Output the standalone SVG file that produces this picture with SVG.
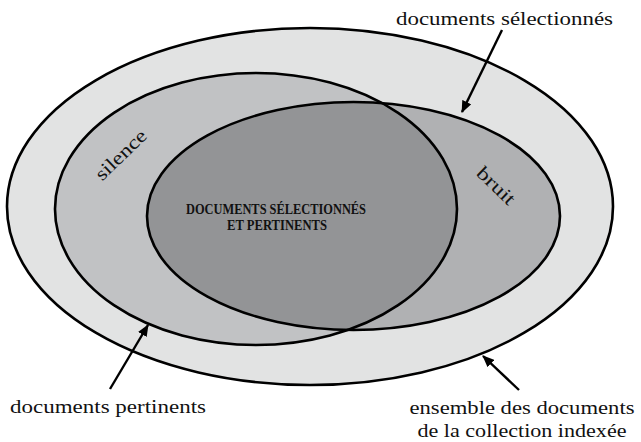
<svg xmlns="http://www.w3.org/2000/svg" width="641" height="442" viewBox="0 0 641 442">
  <style>
    .edge { fill: none; stroke: #000; stroke-width: 2.6; }
    text { font-family: 'Liberation Serif', 'Times New Roman', serif; fill: #111; }
    .big { font-size: 18.5px; }
    .core { font-size: 14px; font-weight: bold; }
    .arrow { stroke: #000; stroke-width: 2.4; fill: none; }
  </style>
  <defs>
    <marker id="head" viewBox="0 0 12 10" refX="11" refY="5" markerWidth="12" markerHeight="10" markerUnits="userSpaceOnUse" orient="auto">
      <path d="M0,0 L12,5 L0,10 Z" fill="#000"/>
    </marker>
    <clipPath id="pertClip">
      <ellipse cx="256" cy="209" rx="201" ry="136"/>
    </clipPath>
  </defs>

  <!-- whole indexed collection -->
  <g id="collection">
    <ellipse class="edge" cx="310" cy="206.5" rx="303" ry="178.5" style="fill:#e2e3e3"/>
  </g>

  <!-- relevant documents -->
  <g id="pertinents">
    <ellipse cx="256" cy="209" rx="201" ry="136" style="fill:#c1c2c4"/>
  </g>

  <!-- selected documents -->
  <g id="selectionnes">
    <ellipse cx="353.5" cy="216" rx="206.5" ry="114" style="fill:#b0b1b3"/>
  </g>

  <!-- selected and relevant: intersection -->
  <g id="intersection">
    <ellipse cx="353.5" cy="216" rx="206.5" ry="114" clip-path="url(#pertClip)" style="fill:#939496"/>
    <text class="core" x="276" y="214" text-anchor="middle" textLength="180" lengthAdjust="spacingAndGlyphs">DOCUMENTS SÉLECTIONNÉS</text>
    <text class="core" x="277" y="230" text-anchor="middle" textLength="100" lengthAdjust="spacingAndGlyphs">ET PERTINENTS</text>
  </g>

  <!-- outlines on top -->
  <g id="outlines">
    <ellipse class="edge" cx="256" cy="209" rx="201" ry="136"/>
    <ellipse class="edge" cx="353.5" cy="216" rx="206.5" ry="114"/>
  </g>

  <g id="silence">
    <text font-size="19" x="121" y="161" text-anchor="middle" transform="rotate(-44 121 155)" textLength="64" lengthAdjust="spacingAndGlyphs">silence</text>
  </g>
  <g id="bruit">
    <text font-size="19" x="496" y="192" text-anchor="middle" transform="rotate(44 496 186)" textLength="46" lengthAdjust="spacingAndGlyphs">bruit</text>
  </g>

  <!-- pointers -->
  <g id="connectors">
    <line class="arrow" x1="502" y1="30" x2="462" y2="112" marker-end="url(#head)"/>
    <line class="arrow" x1="110" y1="389" x2="148" y2="325" marker-end="url(#head)"/>
    <line class="arrow" x1="519" y1="390" x2="483" y2="356" marker-end="url(#head)"/>
  </g>

  <g id="label-selectionnes">
    <text class="big" x="504.5" y="25" text-anchor="middle" textLength="217" lengthAdjust="spacingAndGlyphs">documents sélectionnés</text>
  </g>
  <g id="label-pertinents">
    <text class="big" x="10" y="413" textLength="196" lengthAdjust="spacingAndGlyphs">documents pertinents</text>
  </g>
  <g id="label-collection">
    <text class="big" x="522" y="414" text-anchor="middle" textLength="225" lengthAdjust="spacingAndGlyphs">ensemble des documents</text>
    <text class="big" x="522" y="437" text-anchor="middle" textLength="209" lengthAdjust="spacingAndGlyphs">de la collection indexée</text>
  </g>
</svg>
